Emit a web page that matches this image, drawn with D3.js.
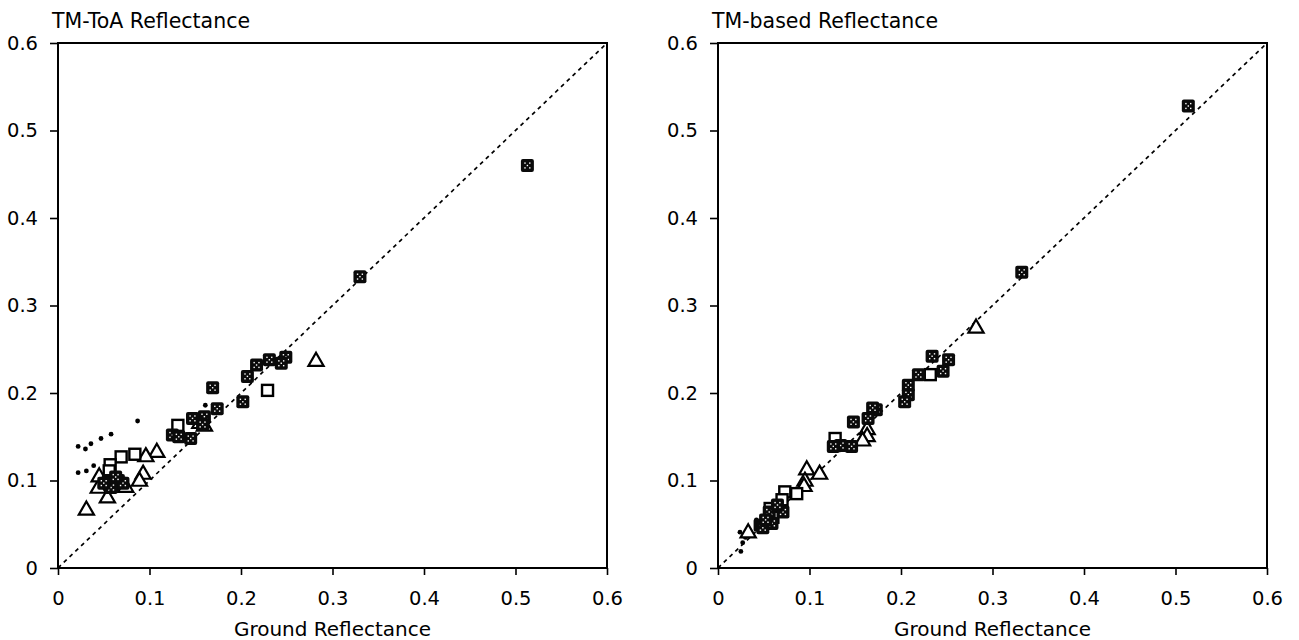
<!DOCTYPE html>
<html><head><meta charset="utf-8">
<script src="https://cdn.jsdelivr.net/npm/d3@7"></script>
<style>body{margin:0;background:#fff}svg{display:block}</style>
</head><body>
<script>
const ticks = [0, 0.1, 0.2, 0.3, 0.4, 0.5, 0.6];
const tickLabels = ["0", "0.1", "0.2", "0.3", "0.4", "0.5", "0.6"];
const titles = ["TM-ToA Reflectance", "TM-based Reflectance"];
const xLabel = "Ground Reflectance";

const leftFilled = [[0.513,0.46],[0.33,0.333],[0.249,0.241],[0.244,0.234],[0.231,0.238],[0.217,0.232],[0.207,0.219],[0.202,0.19],[0.174,0.182],[0.169,0.206],[0.16,0.173],[0.158,0.164],[0.147,0.171],[0.145,0.148],[0.125,0.152],[0.132,0.15],[0.055,0.1],[0.06,0.095],[0.066,0.1],[0.071,0.097],[0.058,0.092],[0.05,0.097],[0.063,0.104]];
const leftOpen = [[0.229,0.203],[0.131,0.163],[0.084,0.130],[0.069,0.127],[0.057,0.118],[0.056,0.111]];
const leftTri = [[0.282,0.236],[0.108,0.132],[0.096,0.127],[0.093,0.107],[0.089,0.099],[0.074,0.092],[0.054,0.08],[0.031,0.066],[0.044,0.091],[0.045,0.104],[0.16,0.162],[0.155,0.165]];
const leftDot = [[0.022,0.139],[0.030,0.136],[0.036,0.142],[0.047,0.148],[0.058,0.153],[0.087,0.168],[0.022,0.109],[0.031,0.111],[0.039,0.117],[0.161,0.186]];

const rightFilled = [[0.514,0.528],[0.332,0.338],[0.234,0.242],[0.252,0.238],[0.246,0.225],[0.219,0.221],[0.208,0.209],[0.208,0.198],[0.204,0.19],[0.173,0.181],[0.169,0.183],[0.164,0.171],[0.148,0.167],[0.146,0.139],[0.134,0.14],[0.126,0.139],[0.056,0.064],[0.059,0.051],[0.071,0.064],[0.046,0.049],[0.049,0.046],[0.065,0.072],[0.052,0.055]];
const rightOpen = [[0.232,0.221],[0.128,0.148],[0.073,0.087],[0.086,0.085],[0.07,0.078],[0.057,0.068],[0.06,0.058]];
const rightTri = [[0.282,0.274],[0.163,0.158],[0.163,0.15],[0.097,0.112],[0.111,0.107],[0.095,0.099],[0.094,0.093],[0.033,0.04],[0.158,0.145]];
const rightDot = [[0.025,0.019],[0.027,0.029],[0.024,0.041],[0.042,0.055],[0.066,0.077],[0.03,0.035]];

const W = 1299, H = 640;
const svg = d3.select("body").append("svg").attr("width", W).attr("height", H);
const font = "'DejaVu Sans', sans-serif";

const panels = [
  {left: 58, right: 607, title: titles[0], filled: leftFilled, open: leftOpen, tri: leftTri, dot: leftDot},
  {left: 718, right: 1267, title: titles[1], filled: rightFilled, open: rightOpen, tri: rightTri, dot: rightDot}
];
const plotTop = 43, plotBottom = 568;

panels.forEach(p => {
  const x = d3.scaleLinear().domain([0, 0.6]).range([p.left, p.right]);
  const y = d3.scaleLinear().domain([0, 0.6]).range([plotBottom, plotTop]);
  const g = svg.append("g");

  const xa = g.append("g").attr("transform", `translate(0,${plotBottom})`)
    .call(d3.axisBottom(x).tickValues(ticks).tickFormat((d,i) => tickLabels[i]).tickSize(7).tickPadding(16));
  const ya = g.append("g").attr("transform", `translate(${p.left},0)`)
    .call(d3.axisLeft(y).tickValues(ticks).tickFormat((d,i) => tickLabels[i]).tickSize(8).tickPadding(12));
  [xa, ya].forEach(a => {
    a.select(".domain").remove();
    a.selectAll(".tick line").attr("stroke", "#000").attr("stroke-width", 1.6);
    a.selectAll(".tick text").attr("font-family", font).attr("font-size", 19.5).attr("fill", "#000");
  });

  g.append("rect").attr("x", p.left).attr("y", plotTop)
    .attr("width", p.right - p.left).attr("height", plotBottom - plotTop)
    .attr("fill", "none").attr("stroke", "#000").attr("stroke-width", 2);

  g.append("line").attr("x1", x(0)).attr("y1", y(0)).attr("x2", x(0.6)).attr("y2", y(0.6))
    .attr("stroke", "#000").attr("stroke-width", 1.7).attr("stroke-dasharray", "4,4");

  g.append("text").attr("x", p.left - 6).attr("y", 28).text(p.title)
    .attr("font-family", font).attr("font-size", 20.5).attr("fill", "#000");
  g.append("text").attr("x", (p.left + p.right) / 2).attr("y", 636).attr("text-anchor", "middle")
    .text(xLabel).attr("font-family", font).attr("font-size", 20).attr("fill", "#000");

  g.selectAll(".dot").data(p.dot).join("circle")
    .attr("cx", d => x(d[0])).attr("cy", d => y(d[1])).attr("r", 2.4).attr("fill", "#000");

  const tri = d3.symbol().type(d3.symbolTriangle).size(100);
  g.selectAll(".tri").data(p.tri).join("path")
    .attr("d", tri).attr("transform", d => `translate(${x(d[0])},${y(d[1])})`)
    .attr("fill", "#fff").attr("stroke", "#000").attr("stroke-width", 2.2);

  g.selectAll(".osq").data(p.open).join("rect")
    .attr("x", d => x(d[0]) - 5.5).attr("y", d => y(d[1]) - 5.5).attr("width", 11).attr("height", 11)
    .attr("fill", "#fff").attr("stroke", "#000").attr("stroke-width", 2.4);

  const fs = g.selectAll(".fsq").data(p.filled).join("g")
    .attr("transform", d => `translate(${x(d[0])},${y(d[1])})`);
  fs.append("rect").attr("x", -6.5).attr("y", -6.5).attr("width", 13).attr("height", 13).attr("rx", 2)
    .attr("fill", "#0a0a0a");
  [[-2.4,-2.4],[2.4,-2.4],[-2.4,2.4],[2.4,2.4],[0,0]].forEach(o => {
    fs.append("rect").attr("x", o[0] - 0.7).attr("y", o[1] - 0.7).attr("width", 1.4).attr("height", 1.4).attr("fill", "#fff");
  });
});
</script>
</body></html>
